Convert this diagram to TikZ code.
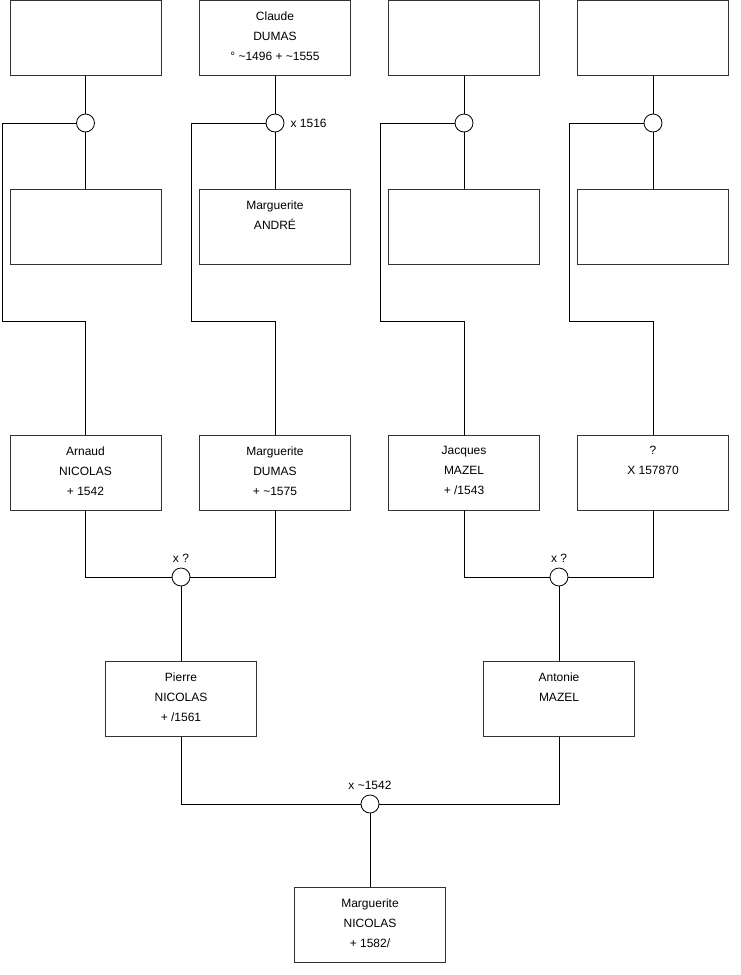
\documentclass[tikz,border=0pt]{standalone}
\usepackage{fontspec}
\setmainfont{Liberation Sans}
\begin{document}
\begin{tikzpicture}[x=1pt,y=-1pt,
  box/.style={draw=black!80, line width=0.8pt, minimum width=151pt, minimum height=75pt, inner sep=0pt},
  txt/.style={anchor=north, inner sep=0pt, align=center, font=\fontsize{12}{20}\selectfont},
  lab/.style={inner sep=0pt, font=\fontsize{12}{14}\selectfont},
  marr/.style={circle, draw=black, fill=white, line width=0.8pt, minimum size=18pt, inner sep=0pt},
  conn/.style={draw=black, line width=0.8pt}]
\useasboundingbox (0,0) rectangle (740,975);
% row 1
\node[box] (a1) at (85.5,38) {};
\node[box] (a2) at (275,38) {};
\node[box] (a3) at (464,38) {};
\node[box] (a4) at (653,38) {};
\node[txt] (ta2) at ([yshift=-11.6pt]a2.north) {Claude\\DUMAS\\° \textasciitilde1496 + \textasciitilde1555};
% row 2
\node[box] (b1) at (85.5,227) {};
\node[box] (b2) at (275,227) {};
\node[box] (b3) at (464,227) {};
\node[box] (b4) at (653,227) {};
\node[txt] (tb2) at ([yshift=-11.6pt]b2.north) {Marguerite\\ANDRÉ};
% row 3
\node[box] (c1) at (85.5,472.5) {};
\node[box] (c2) at (275,472.5) {};
\node[box] (c3) at (464,472.5) {};
\node[box] (c4) at (653,472.5) {};
\node[txt] (tc1) at ([yshift=-11.6pt]c1.north) {Arnaud\\NICOLAS\\+ 1542};
\node[txt] (tc2) at ([yshift=-11.6pt]c2.north) {Marguerite\\DUMAS\\+ \textasciitilde1575};
\node[txt] (tc3) at ([yshift=-11.6pt]c3.north) {Jacques\\MAZEL\\+ /1543};
\node[txt] (tc4) at ([yshift=-11.6pt]c4.north) {?\\X 157870};
% row 4
\node[box] (d1) at (181,699) {};
\node[box] (d2) at (559,699) {};
\node[txt] (td1) at ([yshift=-11.6pt]d1.north) {Pierre\\NICOLAS\\+ /1561};
\node[txt] (td2) at ([yshift=-11.6pt]d2.north) {Antonie\\MAZEL};
% row 5
\node[box] (e1) at (370,925) {};
\node[txt] (te1) at ([yshift=-11.6pt]e1.north) {Marguerite\\NICOLAS\\+ 1582/};
% marriage circles
\node[marr] (m1) at (85.5,123) {};
\node[marr] (m2) at (275,123) {};
\node[marr] (m3) at (464,123) {};
\node[marr] (m4) at (653,123) {};
\node[marr] (n1) at (181,577) {};
\node[marr] (n2) at (559,577) {};
\node[marr] (p1) at (370,804) {};
% labels
\node[lab, anchor=west] (l2) at ([xshift=6pt]m2.east) {x 1516};
\node[lab] (ln1) at (181,558) {x ?};
\node[lab] (ln2) at (559,558) {x ?};
\node[lab] (lp1) at (370,785) {x \textasciitilde1542};
% connectors top part
\foreach \i/\lx in {1/2,2/191,3/380,4/569} {
  \draw[conn] (a\i.south) -- (m\i.north);
  \draw[conn] (m\i.south) -- (b\i.north);
  \draw[conn] (m\i.west) -- (\lx,123) -- (\lx,321) -- (c\i.north |- 0,321) -- (c\i.north);
}
% second generation
\draw[conn] (c1.south) |- (n1.west);
\draw[conn] (c2.south) |- (n1.east);
\draw[conn] (n1.south) -- (d1.north);
\draw[conn] (c3.south) |- (n2.west);
\draw[conn] (c4.south) |- (n2.east);
\draw[conn] (n2.south) -- (d2.north);
% third generation
\draw[conn] (d1.south) |- (p1.west);
\draw[conn] (d2.south) |- (p1.east);
\draw[conn] (p1.south) -- (e1.north);
\end{tikzpicture}
\end{document}
